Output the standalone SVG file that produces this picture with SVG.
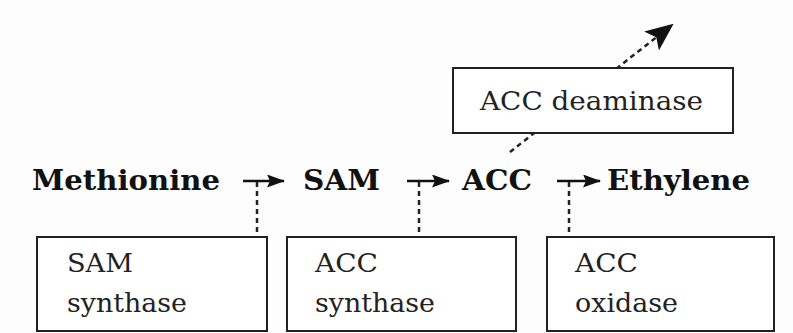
<svg xmlns="http://www.w3.org/2000/svg" width="793" height="333" viewBox="0 0 793 333">
<style>
.bg{fill:#fdfdfd}
.box{fill:#fff;stroke:#222;stroke-width:2}
.t{font-family:"DejaVu Serif","Liberation Serif",serif;font-size:26px;fill:#222}
.b{font-family:"DejaVu Serif","Liberation Serif",serif;font-size:27px;font-weight:bold;fill:#111}
.arr{stroke:#111;stroke-width:2.5;fill:none}
.dash{stroke:#222;stroke-width:2.5;fill:none;stroke-dasharray:5 4}
</style>
<defs>
<marker id="ah" markerWidth="18" markerHeight="13" refX="17" refY="6.5" orient="auto" markerUnits="userSpaceOnUse" viewBox="0 0 18 13">
<path d="M0,0 L18,6.5 L0,13 L3,6.5 Z" fill="#111"/>
</marker>
<marker id="ah2" markerWidth="28" markerHeight="24" refX="26" refY="12" orient="auto" markerUnits="userSpaceOnUse" viewBox="0 0 28 24">
<path d="M0,0 L28,12 L0,24 L6,12 Z" fill="#111"/>
</marker>
</defs>
<rect class="bg" x="0" y="0" width="793" height="333"/>
<g id="connectors">
<line class="dash" x1="510" y1="152" x2="672" y2="25" marker-end="url(#ah2)"/>
<line class="arr" x1="243" y1="181" x2="284" y2="181" marker-end="url(#ah)"/>
<line class="arr" x1="407" y1="181" x2="449" y2="181" marker-end="url(#ah)"/>
<line class="arr" x1="557" y1="181" x2="600" y2="181" marker-end="url(#ah)"/>
<line class="dash" x1="257" y1="182" x2="257" y2="237"/>
<line class="dash" x1="419" y1="182" x2="419" y2="237"/>
<line class="dash" x1="569" y1="182" x2="569" y2="237"/>
</g>
<g id="acc-deaminase">
<rect class="box" x="453" y="68" width="280" height="65"/>
<text class="t" x="480" y="110" textLength="223" lengthAdjust="spacingAndGlyphs">ACC deaminase</text>
</g>
<g id="methionine"><text class="b" x="32" y="190" textLength="188" lengthAdjust="spacingAndGlyphs">Methionine</text></g>
<g id="sam"><text class="b" x="303" y="190" textLength="77" lengthAdjust="spacingAndGlyphs">SAM</text></g>
<g id="acc"><text class="b" x="462" y="190" textLength="70" lengthAdjust="spacingAndGlyphs">ACC</text></g>
<g id="ethylene"><text class="b" x="607" y="190" textLength="143" lengthAdjust="spacingAndGlyphs">Ethylene</text></g>
<g id="sam-synthase">
<rect class="box" x="37" y="237" width="230" height="94"/>
<text class="t" x="67" y="272" textLength="66" lengthAdjust="spacingAndGlyphs">SAM</text>
<text class="t" x="67" y="312" textLength="120" lengthAdjust="spacingAndGlyphs">synthase</text>
</g>
<g id="acc-synthase">
<rect class="box" x="287" y="237" width="229" height="94"/>
<text class="t" x="315" y="272" textLength="63" lengthAdjust="spacingAndGlyphs">ACC</text>
<text class="t" x="315" y="312" textLength="120" lengthAdjust="spacingAndGlyphs">synthase</text>
</g>
<g id="acc-oxidase">
<rect class="box" x="547" y="237" width="227" height="94"/>
<text class="t" x="575" y="272" textLength="63" lengthAdjust="spacingAndGlyphs">ACC</text>
<text class="t" x="575" y="312" textLength="103" lengthAdjust="spacingAndGlyphs">oxidase</text>
</g>
</svg>
